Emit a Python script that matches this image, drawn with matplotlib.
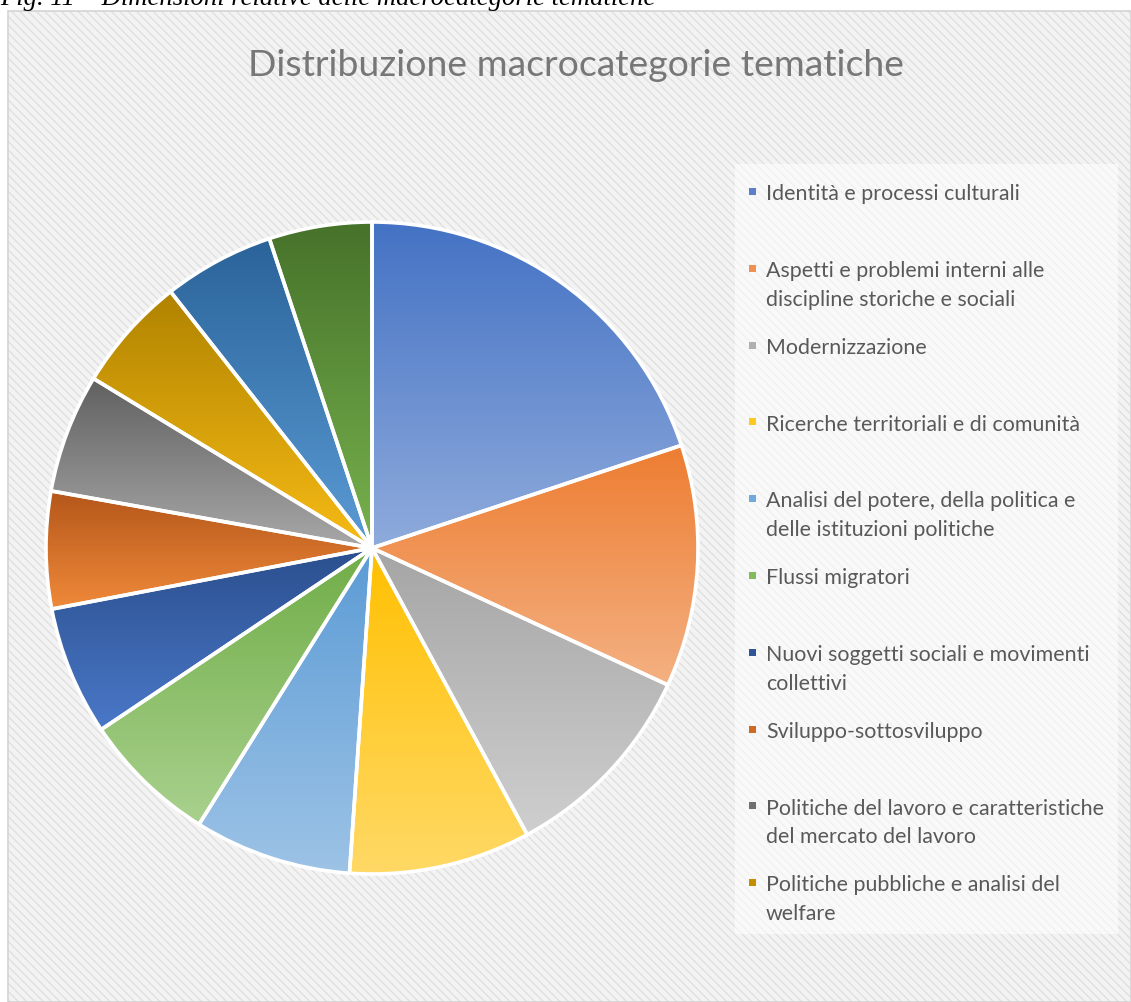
import matplotlib
matplotlib.use("Agg")
import matplotlib.pyplot as plt
import numpy as np
from matplotlib.patches import Rectangle
from matplotlib.colors import LinearSegmentedColormap

# data (share of each thematic macro-category, %)
values = [19.9, 12.0, 10.2, 9.0, 7.8, 6.7, 6.4, 5.8, 5.9, 5.7, 5.5, 5.1]
labels = ["Identità e processi culturali",
          "Aspetti e problemi interni alle\ndiscipline storiche e sociali",
          "Modernizzazione",
          "Ricerche territoriali e di comunità",
          "Analisi del potere, della politica e\ndelle istituzioni politiche",
          "Flussi migratori",
          "Nuovi soggetti sociali e movimenti\ncollettivi",
          "Sviluppo-sottosviluppo",
          "Politiche del lavoro e caratteristiche\ndel mercato del lavoro",
          "Politiche pubbliche e analisi del\nwelfare"]
top_colors = ["#4472c4", "#ed7d31", "#a5a5a5", "#ffc000", "#5b9bd5", "#70ad47",
              "#2b4f8e", "#b4561a", "#606060", "#b08300", "#2a6399", "#46722a"]
bottom_colors = ["#8fabdc", "#f4b183", "#cfcfcf", "#ffd966", "#9dc3e6", "#a9d18e",
                 "#4a78c8", "#f08a3a", "#a8a8a8", "#f7bb15", "#5b9bd5", "#78b24e"]
legend_colors = ["#5b80c9", "#ef9050", "#b0b0b0", "#ffc820", "#72a8da", "#82ba5c",
                 "#2f5597", "#d06a22", "#707070", "#c09000"]

title = "Distribuzione macrocategorie tematiche"
caption = "Fig. 11 – Dimensioni relative delle macrocategorie tematiche"

W, H = 1131, 1003
fig = plt.figure(figsize=(W / 100, H / 100), dpi=100)
ax = fig.add_axes([0, 0, 1, 1])

plt.rcParams["hatch.linewidth"] = 1.0

# chart area with diagonal pattern
ax.add_patch(Rectangle((8, 0), W - 8, H - 12, facecolor="#f3f3f3",
                       edgecolor="#e0e0e0", hatch="\\\\\\\\", linewidth=0, zorder=0))
ax.add_patch(Rectangle((8, 0), W - 8, H - 12, facecolor="none",
                       edgecolor="#d4d4d4", linewidth=1.2, zorder=0.5))
# legend panel
ax.add_patch(Rectangle((735, H - 935), 383, 770, facecolor="white",
                       alpha=0.55, edgecolor="none", zorder=0.6))

wedges, _ = ax.pie(values, center=(372, H - 549), radius=326, startangle=90,
                   counterclock=False, frame=True,
                   wedgeprops=dict(facecolor="none", edgecolor="white",
                                   linewidth=2.6, zorder=2))

grad = np.linspace(0, 1, 256).reshape(-1, 1)
for w, c0, c1 in zip(wedges, top_colors, bottom_colors):
    bb = w.get_path().get_extents()
    cmap = LinearSegmentedColormap.from_list("g", [c1, c0])
    im = ax.imshow(grad, cmap=cmap, origin="lower", aspect="auto",
                   extent=[bb.x0, bb.x1, bb.y0, bb.y1], zorder=1,
                   interpolation="bilinear")
    im.set_clip_path(w)

ax.set_xlim(0, W)
ax.set_ylim(0, H)
ax.set_aspect("auto")
ax.axis("off")


def fit(t, width_px):
    # scale the font so the text is width_px wide
    for _ in range(3):
        fig.canvas.draw()
        w = t.get_window_extent(renderer=fig.canvas.get_renderer()).width
        t.set_fontsize(t.get_fontsize() * width_px / w)


t = ax.text(576, H - 65, title, ha="center", va="center", color="#777777",
            fontsize=22, family="Lato")
fit(t, 658)

c = ax.text(0, H - 5, caption, ha="left", va="baseline", color="black",
            fontsize=18, family="Liberation Serif", style="italic")
fit(c, 655)

legend_texts = []
for i, (lab, col) in enumerate(zip(labels, legend_colors)):
    y = H - (192 + 76.8 * i)
    ax.add_patch(Rectangle((749, y - 4), 7, 7, facecolor=col,
                           edgecolor="none", zorder=3))
    tx = ax.text(766, y, lab, ha="left", va="top", color="#595959",
                 fontsize=13.5, family="Lato", linespacing=1.55, zorder=3)
    legend_texts.append(tx)

fit(legend_texts[0], 254)
fs = legend_texts[0].get_fontsize()
for tx in legend_texts:
    tx.set_fontsize(fs)
    x0, y0 = tx.get_position()
    # first line centred on the marker
    tx.set_position((x0, y0 + fs * 100 / 72 * 0.36))

fig.savefig("out.png", dpi=100)
